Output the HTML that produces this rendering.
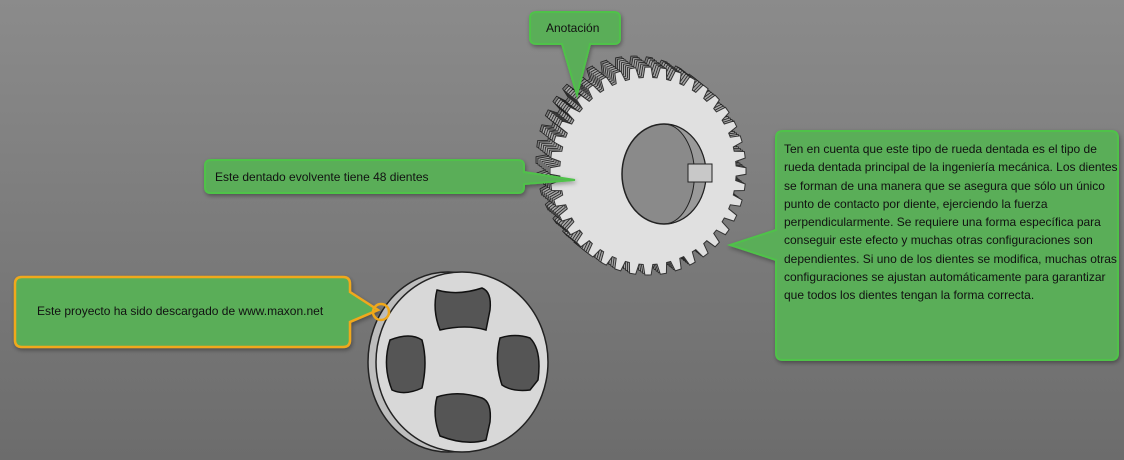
<!DOCTYPE html>
<html><head><meta charset="utf-8"><style>
html,body{margin:0;padding:0}
body{width:1124px;height:460px;overflow:hidden;background:linear-gradient(#8b8b8b,#6c6c6c);position:relative;font-family:"Liberation Sans",sans-serif}
svg{position:absolute;left:0;top:0}
.t{position:absolute;font-size:12px;color:#111;line-height:18.3px}
</style></head><body>
<svg id="s" width="1124" height="460" xmlns="http://www.w3.org/2000/svg">
<defs><filter id="sh"><feDropShadow dx="1" dy="2" stdDeviation="2" flood-opacity="0.35"/></filter></defs>
<g id="gear"></g>
<!-- disc -->
<ellipse cx="448" cy="362" rx="80" ry="90" fill="#bdbdbd" stroke="#222" stroke-width="1.5"/>
<ellipse cx="462" cy="362" rx="86" ry="90" fill="#d8d8d8" stroke="#222" stroke-width="1.5"/>
<g fill="#555" stroke="#111" stroke-width="1.5">
<path d="M437 290 Q458 296 482 288 Q492 292 490 310 L486 330 Q466 324 440 330 Q432 310 437 290Z"/>
<path d="M500 338 Q515 333 530 338 Q542 350 538 380 L530 390 Q512 392 502 385 Q494 362 500 338Z"/>
<path d="M437 397 Q458 390 482 398 Q492 402 490 422 L486 440 Q466 446 440 436 Q432 416 437 397Z"/>
<path d="M390 340 Q410 332 422 340 Q428 362 422 388 Q405 396 392 390 Q382 365 390 340Z"/>
</g>
<!-- callouts -->
<g filter="url(#sh)">
<path d="M537 12 H614 Q620 12 620 18 V38 Q620 44 614 44 H590 L577 95 L562 44 H537 Q530 44 530 38 V18 Q530 12 537 12Z" fill="#5aae58" stroke="#4fc24a" stroke-width="2"/>
<path d="M211 160 H518 Q524 160 524 166 V172 L575 180 L524 184 V187 Q524 193 518 193 H211 Q205 193 205 187 V166 Q205 160 211 160Z" fill="#5aae58" stroke="#4fc24a" stroke-width="2"/>
<path d="M783 131 H1111 Q1118 131 1118 138 V353 Q1118 360 1111 360 H783 Q776 360 776 353 V260 L730 245 L776 230 V138 Q776 131 783 131Z" fill="#5aae58" stroke="#4fc24a" stroke-width="2"/>
<path d="M22 277 H343 Q350 277 350 284 V292 L378 310 L350 322 V340 Q350 347 343 347 H22 Q15 347 15 340 V284 Q15 277 22 277Z" fill="#5aae58" stroke="#f0a81a" stroke-width="2.5"/>
</g>
<circle cx="381" cy="312" r="8" fill="none" stroke="#f0a81a" stroke-width="2.5"/>
</svg>
<div class="t" style="left:546px;top:19px">Anotación</div>
<div class="t" style="left:215px;top:168px">Este dentado evolvente tiene 48 dientes</div>
<div class="t" style="left:37px;top:302px">Este proyecto ha sido descargado de www.maxon.net</div>
<div class="t" style="left:784px;top:140px;width:335px">Ten en cuenta que este tipo de rueda dentada es el tipo de rueda dentada principal de la ingeniería mecánica. Los dientes se forman de una manera que se asegura que sólo un único punto de contacto por diente, ejerciendo la fuerza perpendicularmente. Se requiere una forma específica para conseguir este efecto y muchas otras configuraciones son dependientes. Si uno de los dientes se modifica, muchas otras configuraciones se ajustan automáticamente para garantizar que todos los dientes tengan la forma correcta.</div>
<script>
(function(){
function gear(cx,cy,rx,ry,n){var p=[];for(var i=0;i<n;i++){var a=i/n*2*Math.PI;var d=2*Math.PI/n;
[[0,1],[0.2,1],[0.35,0.9],[0.65,0.9],[0.8,1]].forEach(function(q){var ang=a+q[0]*d;p.push((cx+rx*q[1]*Math.cos(ang)).toFixed(1)+','+(cy+ry*q[1]*Math.sin(ang)).toFixed(1));});}
return p.join(' ');}
var g=document.getElementById('gear');
var h='';
for(var k=0;k<=12;k+=2){h+='<polygon points="'+gear(634+k,160+k*0.8,98,104,40)+'" fill="'+(k==0?'#7a7a7a':'#a5a5a5')+'" stroke="#222" stroke-width="0.8"/>';}
h+='<polygon points="'+gear(648,171,98,104,40)+'" fill="#e0e0e0" stroke="#333" stroke-width="1"/>';
h+='<ellipse cx="664" cy="174" rx="42" ry="50" fill="#8a8a8a" stroke="#222" stroke-width="1.5"/>';
h+='<path d="M664 124 A42 50 0 0 1 664 224 A28 46 0 0 0 664 124Z" fill="#9a9a9a" stroke="#222"/>';
h+='<rect x="688" y="164" width="24" height="18" fill="#c8c8c8" stroke="#222"/>';
g.innerHTML=h;
})();
</script>
</body></html>
